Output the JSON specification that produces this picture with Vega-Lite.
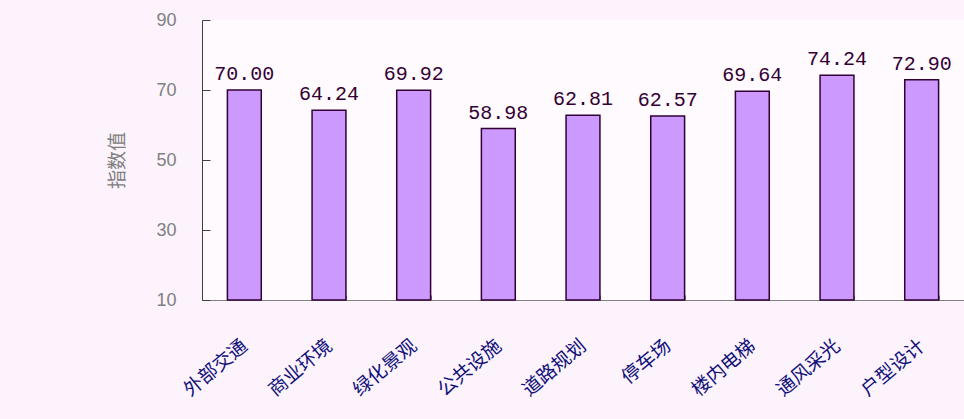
{
  "$schema": "https://vega.github.io/schema/vega-lite/v6.json",
  "autosize": "none",
  "width": 762,
  "height": 280,
  "padding": {"left": 202, "top": 20, "right": 0, "bottom": 119},
  "background": "#fdf3fc",
  "data": {"values": [
    {"item": "外部交通", "value": 70.00},
    {"item": "商业环境", "value": 64.24},
    {"item": "绿化景观", "value": 69.92},
    {"item": "公共设施", "value": 58.98},
    {"item": "道路规划", "value": 62.81},
    {"item": "停车场", "value": 62.57},
    {"item": "楼内电梯", "value": 69.64},
    {"item": "通风采光", "value": 74.24},
    {"item": "户型设计", "value": 72.90}
  ]},
  "encoding": {
    "x": {"field": "item", "type": "nominal", "sort": null,
      "scale": {"paddingInner": 0.6, "paddingOuter": 0.3},
      "axis": {"title": null, "labelAngle": -40, "labelFont": "Noto Sans CJK SC", "labelFontSize": 19,
        "labelColor": "#10107a", "labelPadding": 48, "labelLimit": 300, "tickBand": "extent", "tickSize": -5,
        "tickColor": "#808080", "domainColor": "#808080", "labelAlign": "right", "labelBaseline": "middle"}},
    "y": {"field": "value", "type": "quantitative",
      "scale": {"domain": [10, 90], "nice": false, "zero": false},
      "axis": {"title": "指数值", "titleFont": "Noto Sans CJK SC", "titleFontSize": 19, "titleFontWeight": "normal",
        "titleColor": "#808080", "titlePadding": 28, "values": [10, 30, 50, 70, 90],
        "labelFont": "Liberation Sans", "labelFontSize": 18, "labelColor": "#808080", "labelPadding": 34,
        "tickSize": -8, "tickColor": "#404040", "domainColor": "#404040", "grid": false}}
  },
  "layer": [
    {"mark": {"type": "bar", "fill": "#cc99ff", "stroke": "#330033", "strokeWidth": 1.5},
     "encoding": {"y2": {"datum": 10}}},
    {"mark": {"type": "text", "dy": -16, "font": "Liberation Mono", "fontSize": 20, "color": "#330033"},
     "encoding": {"text": {"field": "value", "type": "quantitative", "format": ".2f"}}}
  ],
  "config": {"view": {"stroke": null, "fill": "#fefafe"}}
}
